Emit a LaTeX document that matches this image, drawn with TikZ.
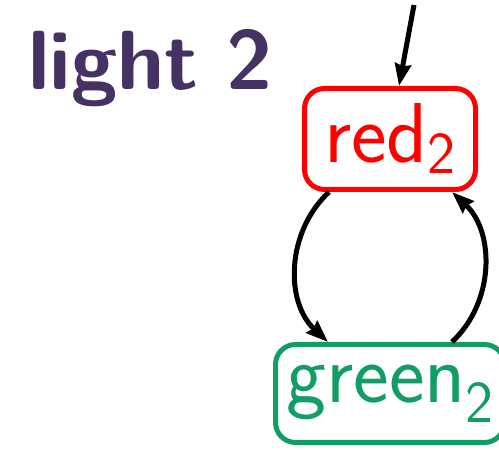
\documentclass[tikz,border=0pt]{standalone}
\usepackage{fontspec}
\usetikzlibrary{arrows.meta}
\definecolor{titlepurple}{RGB}{69,50,98}
\definecolor{stategreen}{RGB}{17,157,100}
\definecolor{statered}{RGB}{255,0,0}
\newcommand{\statesub}[2]{\raisebox{#1}{\fontsize{59.5}{60}\selectfont #2}}
\tikzset{
  state/.style={rectangle, rounded corners=20pt, line width=5pt, inner sep=0pt,
    font=\sffamily\fontsize{85}{90}\selectfont},
  trans/.style={line width=5pt, -{Stealth[length=22pt,width=16pt,inset=2pt]}},
}
\begin{document}
\begin{tikzpicture}[x=1pt,y=1pt]
  \useasboundingbox (0,0) rectangle (499,450);
  % title
  \node[anchor=base west, inner sep=0pt, text=titlepurple,
        font=\sffamily\bfseries\fontsize{84}{90}\selectfont] (title) at (28,360) {light\hspace{-3pt} 2};
  % states
  \node[state, draw=statered, text=statered, minimum width=171pt, minimum height=101pt]
        (red) at (390,311) {red\statesub{-11pt}{2}};
  \node[state, draw=stategreen, text=stategreen, minimum width=229pt, minimum height=98pt]
        (green) at (390,56.5) {green\statesub{-20pt}{2}};
  % initial arrow
  \coordinate (init) at (414,445);
  \draw[trans] (init) -- ([xshift=9pt]red.north);
  % transitions
  \draw[trans] ([xshift=-61pt]red.south) to[out=223,in=137] ([xshift=-62pt]green.north);
  \draw[trans] ([xshift=62pt]green.north) to[out=43,in=-43] ([xshift=62pt]red.south);
\end{tikzpicture}
\end{document}
